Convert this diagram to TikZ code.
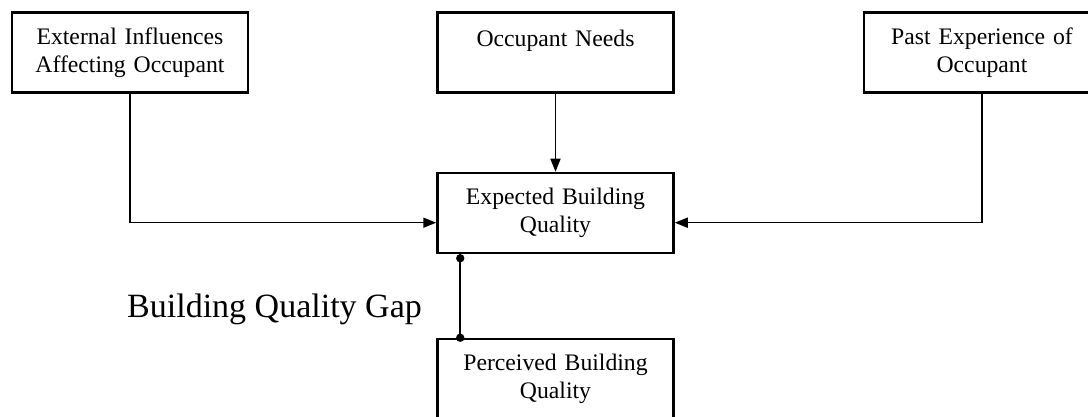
\documentclass[tikz,border=0pt]{standalone}
\usepackage{fontspec}
\setmainfont{Liberation Serif}
\usetikzlibrary{arrows.meta}
\tikzset{
  box/.style={draw, line width=2.5pt, minimum width=236pt, minimum height=80pt,
    text width=230pt, align=center, inner sep=0pt,
    font=\fontsize{23.7}{27.5}\selectfont},
  arr/.style={line width=1.6pt, -{Triangle[length=13pt,width=10pt]}},
  gapline/.style={line width=1.6pt},
  dot/.style={fill=black}
}
\begin{document}
\begin{tikzpicture}[x=1pt,y=1pt]
\useasboundingbox (0,0) rectangle (1088,-417);
\node[box] (ext)   at (130,-52.5)   {External Influences\\Affecting Occupant};
\node[box] (needs) at (555.5,-52.5) {Occupant Needs\\\mbox{}};
\node[box] (past)  at (982,-52.5)   {Past Experience of\\Occupant};
\node[box] (exp)   at (555.5,-213)  {Expected Building\\Quality};
\node[box] (perc)  at (555.5,-379)  {Perceived Building\\Quality};
\node[anchor=base west, inner sep=0pt, font=\fontsize{34}{40}\selectfont] (gaplabel)
  at (127,-317.7) {Building Quality Gap};
\draw[arr] (ext.south) |- ([yshift=-9.7pt]exp.west);
\draw[arr] (needs.south) -- (exp.north);
\draw[arr] (past.south) |- ([yshift=-9.7pt]exp.east);
\draw[gapline] ([xshift=24pt]exp.south west) coordinate (g1)
  -- ([xshift=24pt]perc.north west) coordinate (g2);
\fill[dot] ([yshift=-4pt]g1) circle (4.2pt);
\fill[dot] (g2) circle (4.2pt);
\end{tikzpicture}
\end{document}
